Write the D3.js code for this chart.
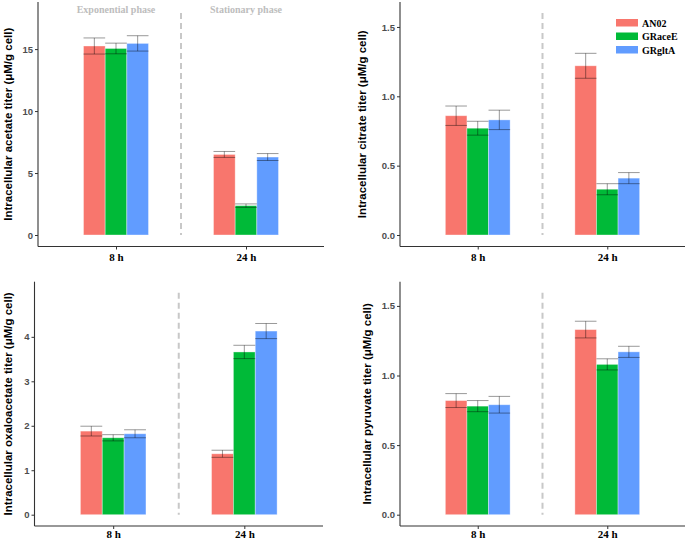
<!DOCTYPE html>
<html><head><meta charset="utf-8">
<script src="https://cdn.jsdelivr.net/npm/d3@7"></script>
<style>body{margin:0;background:#fff}svg{display:block}</style></head>
<body>
<script>
// ---- data ----
const times = ["8 h", "24 h"];
const strains = ["AN02", "GRaceE", "GRgltA"];
const colors = ["#F8766D", "#00BA38", "#619CFF"];
const phases = ["Exponential phase", "Stationary phase"];

// values indexed [time][strain]
const acetateMean = [[15.25, 15.05, 15.46], [6.50, 2.37, 6.29]];
const acetateSD   = [[0.65, 0.43, 0.62], [0.24, 0.14, 0.28]];
const citrateMean = [[0.86, 0.77, 0.83], [1.22, 0.33, 0.41]];
const citrateSD   = [[0.07, 0.05, 0.07], [0.09, 0.04, 0.04]];
const oxaloMean   = [[1.88, 1.73, 1.82], [1.37, 3.66, 4.13]];
const oxaloSD     = [[0.11, 0.07, 0.09], [0.08, 0.15, 0.17]];
const pyruvMean   = [[0.82, 0.78, 0.79], [1.33, 1.08, 1.17]];
const pyruvSD     = [[0.05, 0.04, 0.06], [0.06, 0.04, 0.04]];

const acetateTicks = [0, 5, 10, 15];
const citrateTicks = [0, 0.5, 1.0, 1.5];
const oxaloTicks   = [0, 1, 2, 3, 4];
const pyruvTicks   = [0, 0.5, 1.0, 1.5];

const panels = [
  {title: "Intracellular acetate titer (\u03bcM/g cell)", mean: acetateMean, sd: acetateSD, ticks: acetateTicks, fmt: d3.format("d"), ymax: 18.8,
   box: {left: 38, right: 324, top: 2, axisY: 246.5, zeroY: 235, titleX: 12, xPad: 3.3}, phases: true},
  {title: "Intracellular citrate titer (\u03bcM/g cell)", mean: citrateMean, sd: citrateSD, ticks: citrateTicks, fmt: d3.format(".1f"), ymax: 1.68,
   box: {left: 400, right: 685, top: 2, axisY: 246.5, zeroY: 235, titleX: 366, xPad: 3.3}, legend: true},
  {title: "Intracellular oxaloacetate titer (\u03bcM/g cell)", mean: oxaloMean, sd: oxaloSD, ticks: oxaloTicks, fmt: d3.format("d"), ymax: 5.24,
   box: {left: 34.5, right: 323, top: 281.7, axisY: 526, zeroY: 514.7, titleX: 12, xPad: 1.5}},
  {title: "Intracellular pyruvate titer (\u03bcM/g cell)", mean: pyruvMean, sd: pyruvSD, ticks: pyruvTicks, fmt: d3.format(".1f"), ymax: 1.674,
   box: {left: 400, right: 685, top: 281.7, axisY: 526, zeroY: 514.7, titleX: 371, xPad: 1.5}}
];

const svg = d3.select("body").append("svg").attr("width", 685).attr("height", 541);
const sans = "'Liberation Sans', Arial, sans-serif";
const serif = "'Liberation Serif', 'Times New Roman', serif";

panels.forEach(p => {
  const b = p.box;
  const g = svg.append("g");
  const x = d3.scalePoint().domain(times).range([b.left, b.right]).padding(0.6);
  const step = x.step();
  const xs = d3.scaleBand().domain(strains).range([-step * 0.25, step * 0.25]).padding(0);
  const y = d3.scaleLinear().domain([0, p.ymax]).range([b.zeroY, b.top]);

  // dashed separator
  const midX = (x(times[0]) + x(times[1])) / 2;
  g.append("line").attr("x1", midX).attr("x2", midX)
    .attr("y1", b.top + 11).attr("y2", b.zeroY)
    .attr("stroke", "#C8C8C8").attr("stroke-width", 2).attr("stroke-dasharray", "6,4");

  // bars
  times.forEach((t, ti) => {
    strains.forEach((s, si) => {
      const v = p.mean[ti][si];
      g.append("rect")
        .attr("x", x(t) + xs(s)).attr("width", xs.bandwidth())
        .attr("y", y(v)).attr("height", y(0) - y(v))
        .attr("fill", colors[si])
        .attr("stroke", "#fff").attr("stroke-opacity", 0.45).attr("stroke-width", 0.8);
    });
  });
  // error bars
  times.forEach((t, ti) => {
    strains.forEach((s, si) => {
      const v = p.mean[ti][si], e = p.sd[ti][si];
      const x0 = x(t) + xs(s), x1 = x0 + xs.bandwidth(), xc = (x0 + x1) / 2;
      const eg = g.append("g").attr("stroke", "#000").attr("stroke-opacity", 0.45).attr("stroke-width", 0.9).attr("fill", "none");
      eg.append("line").attr("x1", x0).attr("x2", x1).attr("y1", y(v + e)).attr("y2", y(v + e));
      eg.append("line").attr("x1", x0).attr("x2", x1).attr("y1", y(v - e)).attr("y2", y(v - e));
      eg.append("line").attr("x1", xc).attr("x2", xc).attr("y1", y(v + e)).attr("y2", y(v - e));
    });
  });

  // y axis
  const ya = g.append("g").attr("transform", `translate(${b.left},0)`)
    .call(d3.axisLeft(y).tickValues(p.ticks).tickFormat(p.fmt).tickSize(3).tickPadding(2));
  ya.select(".domain").remove();
  ya.append("line").attr("x1", 0).attr("x2", 0).attr("y1", b.top).attr("y2", b.axisY)
    .attr("stroke", "#333").attr("stroke-width", 1.1);
  ya.selectAll(".tick line").attr("stroke", "#333");
  ya.selectAll(".tick text").attr("fill", "#4D4D4D").style("font-family", sans)
    .style("font-weight", "bold").style("font-size", "9.5px");

  // x axis
  const xa = g.append("g").attr("transform", `translate(0,${b.axisY})`)
    .call(d3.axisBottom(x).tickSize(3).tickPadding(b.xPad));
  xa.select(".domain").remove();
  xa.append("line").attr("x1", b.left).attr("x2", b.right).attr("y1", 0).attr("y2", 0)
    .attr("stroke", "#333").attr("stroke-width", 1.1);
  xa.selectAll(".tick line").attr("stroke", "#333");
  xa.selectAll(".tick text").attr("fill", "#000").style("font-family", serif)
    .style("font-weight", "bold").style("font-size", "11px");

  // y title
  const cy = (b.top + b.axisY) / 2;
  g.append("text").attr("transform", `translate(${b.titleX},${cy}) rotate(-90)`)
    .attr("text-anchor", "middle").text(p.title)
    .style("font-family", sans).style("font-weight", "bold").style("font-size", "11.5px").attr("fill", "#000");

  if (p.phases) {
    phases.forEach((ph, i) => {
      g.append("text").attr("x", x(times[i])).attr("y", b.top + 11)
        .attr("text-anchor", "middle").text(ph)
        .style("font-family", serif).style("font-weight", "bold").style("font-size", "10px")
        .attr("fill", "#BDBDBD");
    });
  }
  if (p.legend) {
    const lg = g.append("g").attr("transform", "translate(616,19)");
    strains.forEach((s, i) => {
      const row = lg.append("g").attr("transform", `translate(0,${i * 13.5})`);
      row.append("rect").attr("width", 22).attr("height", 7.5).attr("fill", colors[i]);
      row.append("text").attr("x", 26).attr("y", 7.5).text(s)
        .style("font-family", serif).style("font-weight", "bold").style("font-size", "10px").attr("fill", "#000");
    });
  }
});
</script>
</body></html>
